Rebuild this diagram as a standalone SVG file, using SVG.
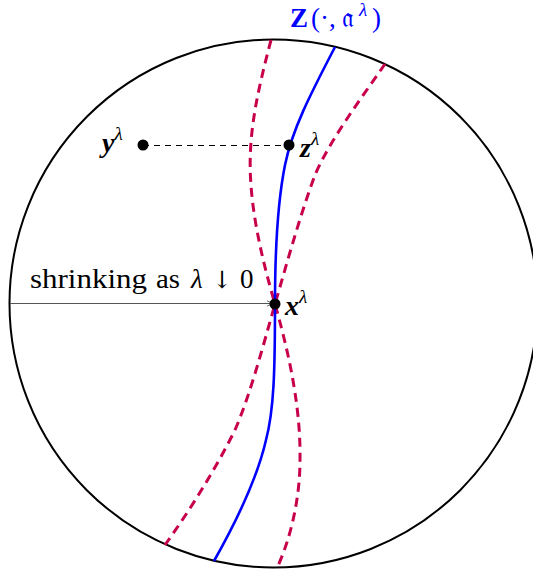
<svg xmlns="http://www.w3.org/2000/svg" width="533" height="572" viewBox="0 0 533 572">
  <defs>
    <style>
      .circ { fill: none; stroke: #000; stroke-width: 2; }
      .blue { fill: none; stroke: #0000ff; stroke-width: 2.6; }
      .red { fill: none; stroke: #c8004b; stroke-width: 3; stroke-dasharray: 9 6; }
      .guide { fill: none; stroke: #000; stroke-width: 1; stroke-dasharray: 6 5; }
      .arrow { fill: none; stroke: #555; stroke-width: 1.2; }
      .dot { fill: #000; }
    </style>
    <marker id="ah" viewBox="0 0 10 10" refX="9" refY="5" markerWidth="6" markerHeight="6" orient="auto">
      <path d="M0,1 L9,5 L0,9" fill="none" stroke="#555" stroke-width="1.2"/>
    </marker>
  </defs>

  <g id="ball">
    <circle class="circ" cx="273.5" cy="303.5" r="264"/>
  </g>

  <g id="connectors">
    <line class="arrow" x1="10" y1="303.5" x2="273" y2="303.5" marker-end="url(#ah)"/>
    <line class="guide" x1="143" y1="145.5" x2="289" y2="145.5"/>
    <path id="red1" class="red" d="M271,40 C258,90 247,135 251,185 C254,230 268,280 275,304 C285,340 301,400 300,460 C300,500 290,540 277,568"/>
    <path id="red2" class="red" d="M385,64 C360,100 330,140 315,175 C300,215 285,270 275,304 C262,350 250,395 235,430 C215,470 190,510 165,545"/>
    <path id="zcurve" class="blue" d="M335,47 C310,95 292,130 285,165 C278,200 275,240 275,304 C275,370 274,410 266,440 C258,475 240,515 214,561"/>
  </g>

  <g id="node-y">
    <circle class="dot" cx="143" cy="145" r="5.5"/>
    <text font-family="'Liberation Serif', 'DejaVu Serif', serif" font-size="28" font-weight="bold" font-style="italic" fill="#000" x="102" y="152">y<tspan font-size="19" font-weight="normal" dy="-12">λ</tspan></text>
  </g>

  <g id="node-z">
    <circle class="dot" cx="289" cy="145" r="5.5"/>
    <text font-family="'Liberation Serif', 'DejaVu Serif', serif" font-size="28" font-weight="bold" font-style="italic" fill="#000" x="300" y="157">z<tspan font-size="19" font-weight="normal" dy="-12">λ</tspan></text>
  </g>

  <g id="node-x">
    <circle class="dot" cx="275" cy="304" r="5.5"/>
    <text font-family="'Liberation Serif', 'DejaVu Serif', serif" font-size="28" font-weight="bold" font-style="italic" fill="#000" x="285" y="315">x<tspan font-size="19" font-weight="normal" dy="-12">λ</tspan></text>
  </g>

  <g id="label-shrink">
    <text font-family="'Liberation Serif', 'DejaVu Serif', serif" font-size="27" fill="#000" y="288"><tspan x="30" textLength="117" lengthAdjust="spacingAndGlyphs">shrinking</tspan><tspan x="156" textLength="24" lengthAdjust="spacingAndGlyphs">as</tspan><tspan x="191" font-style="italic">λ</tspan><tspan x="212" font-family="'DejaVu Serif', serif" font-size="24">↓</tspan><tspan x="240">0</tspan></text>
  </g>

  <g id="label-Z">
    <text font-family="'Liberation Serif', 'DejaVu Serif', serif" font-size="27" fill="#0000ff" y="27"><tspan x="290" font-weight="bold">Z</tspan><tspan x="311">(·,</tspan><tspan x="342">𝔞</tspan><tspan x="359" dy="-11" font-size="19" font-style="italic">λ</tspan><tspan x="372" dy="11">)</tspan></text>
  </g>
</svg>
